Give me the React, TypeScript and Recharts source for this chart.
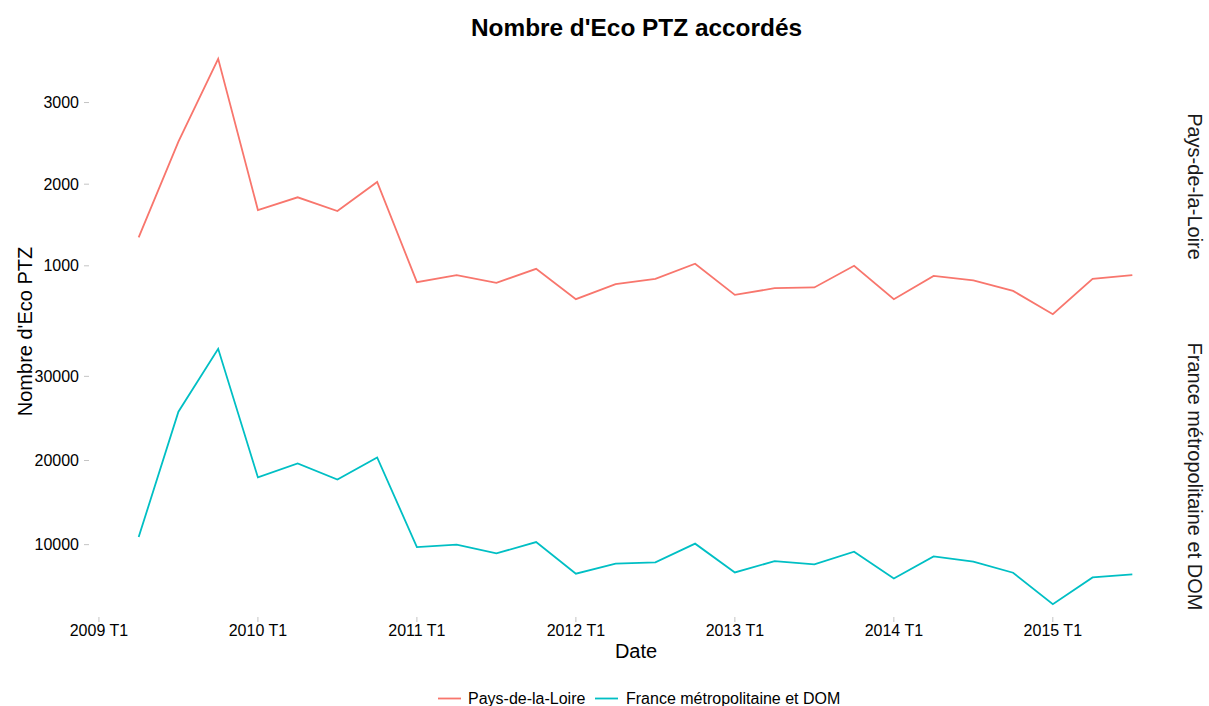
import React from "react";
import { LineChart, Line, XAxis, YAxis } from "recharts";

const quarters = [
  "2009 T2", "2009 T3", "2009 T4",
  "2010 T1", "2010 T2", "2010 T3", "2010 T4",
  "2011 T1", "2011 T2", "2011 T3", "2011 T4",
  "2012 T1", "2012 T2", "2012 T3", "2012 T4",
  "2013 T1", "2013 T2", "2013 T3", "2013 T4",
  "2014 T1", "2014 T2", "2014 T3", "2014 T4",
  "2015 T1", "2015 T2", "2015 T3",
];

const paysDeLaLoire = [
  1348, 2521, 3536,
  1683, 1839, 1671, 2027,
  800, 886, 791, 963,
  591, 775, 840, 1025,
  644, 726, 735, 1000,
  591, 877, 821, 693,
  407, 840, 886,
];

const franceMetroDom = [
  10906, 25804, 33278,
  17986, 19654, 17747, 20369,
  9714, 10000, 8963, 10310,
  6544, 7735, 7890, 10119,
  6698, 8045, 7652, 9166,
  5983, 8606, 7974, 6663,
  2920, 6103, 6460,
];

const seriesNames = ["Pays-de-la-Loire", "France métropolitaine et DOM"];
const seriesColors = ["#F8766D", "#00BFC4"];

const topTicks = [1000, 2000, 3000];
const bottomTicks = [10000, 20000, 30000];
const xTickYears = [2009, 2010, 2011, 2012, 2013, 2014, 2015];

const parseQuarter = (q: string) => {
  const [y, t] = q.split(" T");
  return Number(y) + (Number(t) - 1) / 4;
};

const data = quarters.map((q, i) => ({
  label: q,
  t: parseQuarter(q),
  pdl: paysDeLaLoire[i],
  fr: franceMetroDom[i],
}));

const expand = (vals: number[]): [number, number] => {
  const mn = Math.min(...vals);
  const mx = Math.max(...vals);
  const pad = (mx - mn) * 0.05;
  return [mn - pad, mx + pad];
};

const xDomain = expand(data.map((d) => d.t));
const topDomain = expand(paysDeLaLoire);
const bottomDomain = expand(franceMetroDom);

const FONT = "'Liberation Sans', Arial, Helvetica, sans-serif";
const tickStyle = { fill: "#000", fontSize: 16, fontFamily: FONT };
const tickLineStyle = { stroke: "#c4c4c4", strokeWidth: 1 };

export default function App() {
  return (
    <div
      style={{
        position: "absolute",
        left: 0,
        top: 0,
        width: 1209,
        height: 706,
        background: "#fff",
        overflow: "hidden",
      }}
    >
      <div style={{ position: "absolute", left: 0, top: 0 }}>
        <LineChart
          width={1209}
          height={327}
          data={data}
          margin={{ top: 46, right: 27, bottom: 0, left: 0 }}
        >
          <XAxis
            dataKey="t"
            type="number"
            domain={xDomain}
            ticks={xTickYears}
            hide
          />
          <YAxis
            type="number"
            domain={topDomain}
            ticks={topTicks}
            width={89}
            axisLine={false}
            tickLine={tickLineStyle}
            tickSize={5}
            tickMargin={5}
            tick={tickStyle}
            interval={0}
          />
          <Line
            type="linear"
            dataKey="pdl"
            name={seriesNames[0]}
            stroke={seriesColors[0]}
            strokeWidth={1.8}
            dot={false}
            isAnimationActive={false}
          />
        </LineChart>
      </div>
      <div style={{ position: "absolute", left: 0, top: 330 }}>
        <LineChart
          width={1209}
          height={317}
          data={data}
          margin={{ top: 6, right: 27, bottom: 0, left: 0 }}
        >
          <XAxis
            dataKey="t"
            type="number"
            domain={xDomain}
            ticks={xTickYears}
            interval={0}
            tickFormatter={(v: number) => `${v} T1`}
            axisLine={false}
            tickLine={tickLineStyle}
            tickSize={5}
            tickMargin={3}
            tick={tickStyle}
            height={30}
          />
          <YAxis
            type="number"
            domain={bottomDomain}
            ticks={bottomTicks}
            width={89}
            axisLine={false}
            tickLine={tickLineStyle}
            tickSize={5}
            tickMargin={5}
            tick={tickStyle}
            interval={0}
          />
          <Line
            type="linear"
            dataKey="fr"
            name={seriesNames[1]}
            stroke={seriesColors[1]}
            strokeWidth={1.8}
            dot={false}
            isAnimationActive={false}
          />
        </LineChart>
      </div>
      <svg
        width={1209}
        height={706}
        style={{ position: "absolute", left: 0, top: 0, pointerEvents: "none" }}
        fontFamily={FONT}
      >
        <text x={636.5} y={36} textAnchor="middle" fontSize={24.4} fontWeight="bold" fill="#000">
          Nombre d'Eco PTZ accordés
        </text>
        <text
          transform="translate(32, 331.5) rotate(-90)"
          textAnchor="middle"
          fontSize={20}
          fill="#000"
        >
          Nombre d'Eco PTZ
        </text>
        <text x={636} y={658} textAnchor="middle" fontSize={20} fill="#000">
          Date
        </text>
        <text
          transform="translate(1188, 186.5) rotate(90)"
          textAnchor="middle"
          fontSize={20}
          fill="#1a1a1a"
        >
          {seriesNames[0]}
        </text>
        <text
          transform="translate(1188, 476.5) rotate(90)"
          textAnchor="middle"
          fontSize={20}
          fill="#1a1a1a"
        >
          {seriesNames[1]}
        </text>
        <line x1={438} y1={698.5} x2={461} y2={698.5} stroke={seriesColors[0]} strokeWidth={1.8} />
        <text x={468} y={703.5} fontSize={16} fill="#000">
          {seriesNames[0]}
        </text>
        <line x1={595} y1={698.5} x2={618} y2={698.5} stroke={seriesColors[1]} strokeWidth={1.8} />
        <text x={626} y={703.5} fontSize={16} fill="#000">
          {seriesNames[1]}
        </text>
      </svg>
    </div>
  );
}
